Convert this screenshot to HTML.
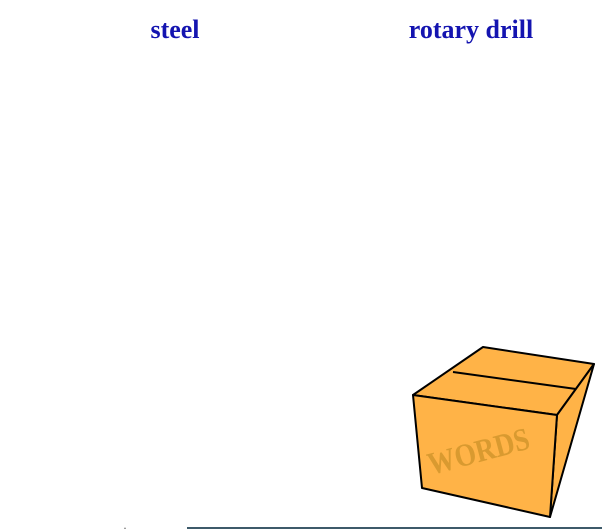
<!DOCTYPE html>
<html><head><meta charset="utf-8"><style>
html,body{margin:0;padding:0;background:#fff;width:602px;height:529px;overflow:hidden;position:relative}
.t{position:absolute;top:15px;font:bold 26px "Liberation Serif",serif;color:#1414b0;white-space:nowrap;transform:translateX(-50%)}
</style></head><body>
<div class="t" style="left:175px">steel</div>
<div class="t" style="left:471px">rotary drill</div>
<svg width="602" height="529" style="position:absolute;left:0;top:0">
<g stroke="#000" stroke-width="2" stroke-linejoin="round" fill="#ffb347">
<polygon points="413,395 483,347 594,364 557,415"/>
<polygon points="557,415 594,364 550,517"/>
<polygon points="413,395 557,415 550,517 422,488"/>
<line x1="453" y1="372" x2="576" y2="389"/>
</g>
<text x="0" y="0" transform="translate(431,475) rotate(-15)" font-family="Liberation Serif,serif" font-weight="bold" font-size="32" fill="#d99a30" textLength="104" lengthAdjust="spacingAndGlyphs">WORDS</text>
<line x1="187" y1="528" x2="602" y2="528" stroke="#3d5a6a" stroke-width="2"/>
<circle cx="125" cy="528.5" r="1" fill="#999"/>
</svg>
</body></html>
